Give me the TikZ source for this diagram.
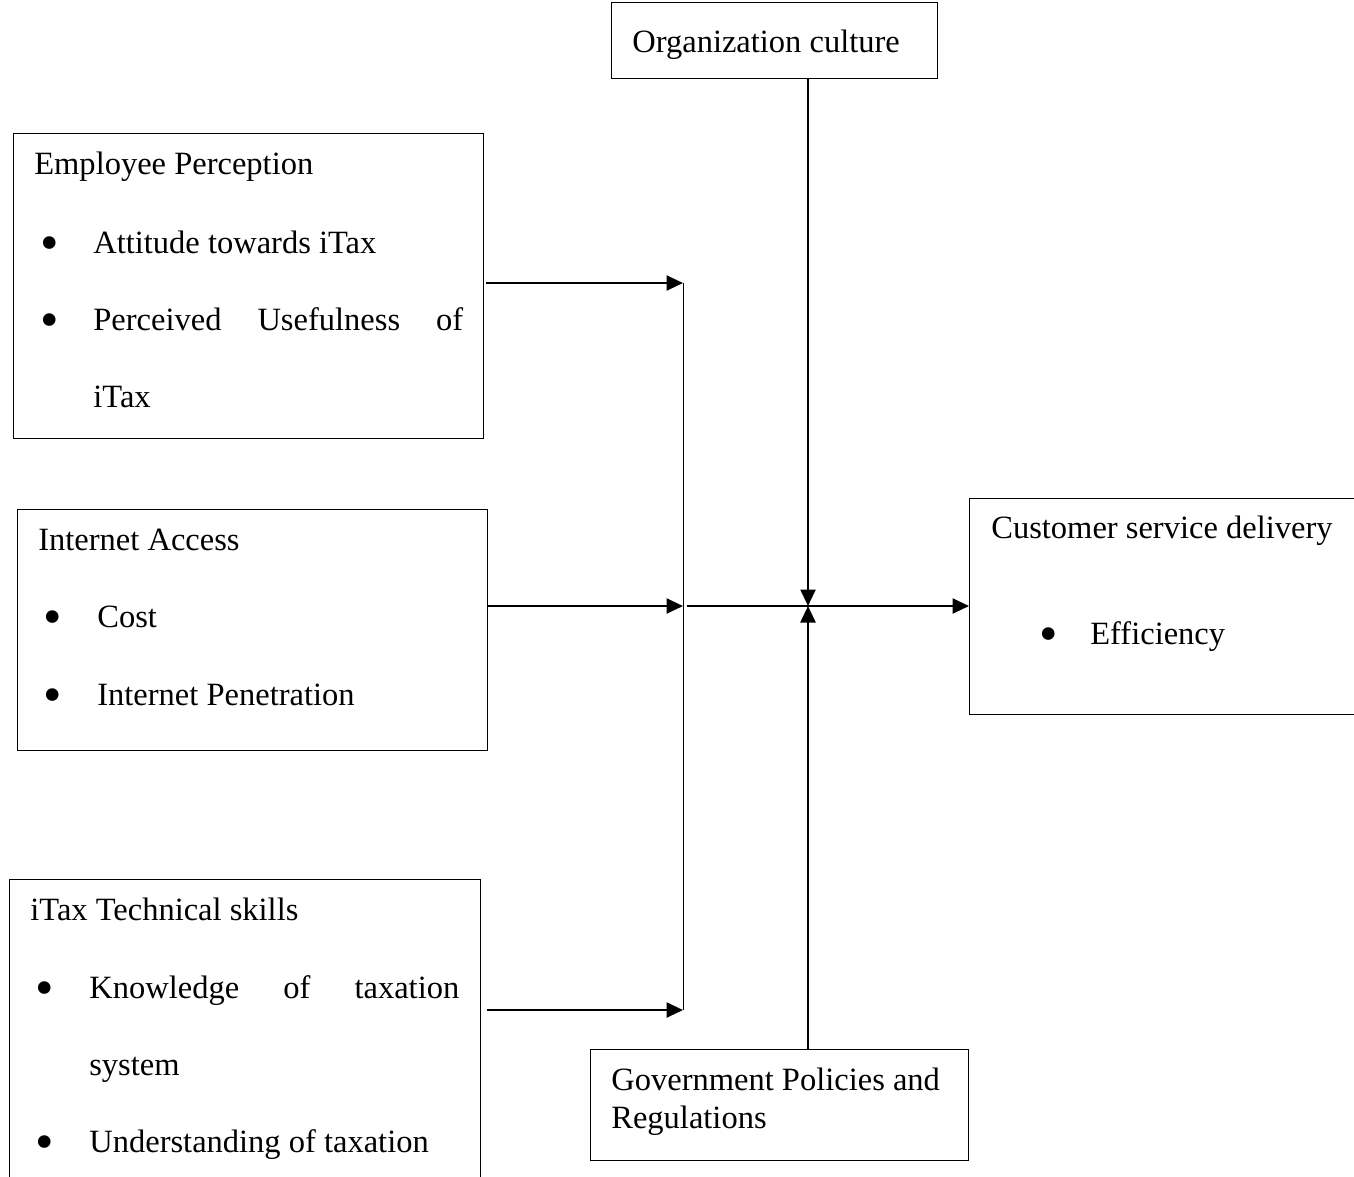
\documentclass[tikz,border=0pt]{standalone}
\usepackage{fontspec}
\setmainfont{Liberation Serif}
\usetikzlibrary{arrows.meta, positioning}
\tikzset{
  block/.style = {draw, line width=0.8pt, inner sep=0pt, anchor=north west},
  txt/.style = {font=\fontsize{18.5}{21.5}\selectfont, inner sep=0pt, anchor=base west},
  dot/.style = {font=\fontsize{30}{30}\selectfont, inner sep=0pt, anchor=center},
  link/.style = {line width=1.4pt, -{Triangle[length=3.3mm, width=3mm]}}
}

\begin{document}
\begin{tikzpicture}[x=0.02cm, y=-0.02cm]

    \clip (0,0) rectangle (1354,1176);

    %% Boxes
    \node[block, minimum width=6.52cm, minimum height=1.52cm] (org) at (611,2) {};
    \node[block, minimum width=9.40cm, minimum height=6.10cm] (emp) at (13,133) {};
    \node[block, minimum width=9.40cm, minimum height=4.82cm] (net) at (17,509) {};
    \node[block, minimum width=9.42cm, minimum height=7.00cm] (tech) at (9,879) {};
    \node[block, minimum width=7.56cm, minimum height=2.22cm] (gov) at (590,1049) {};
    \node[block, minimum width=8.40cm, minimum height=4.32cm] (cust) at (969,498) {};

    % Organization culture
    \node[txt] (org-t) at (632,53) {Organization culture};

    % Employee perception
    \node[txt] (emp-t) at (34,174) {Employee Perception};
    \node[dot] (emp-b1) at (50,249) {\textbullet};
    \node[txt] (emp-1) at (93,253) {Attitude towards iTax};
    \node[dot] (emp-b2) at (50,326) {\textbullet};
    \node[txt] (emp-2) at (93,330) {\makebox[7.4cm][s]{Perceived Usefulness of}};
    \node[txt] (emp-3) at (93,407) {iTax};

    % Internet access
    \node[txt] (net-t) at (38,550) {Internet Access};
    \node[dot] (net-b1) at (53,623) {\textbullet};
    \node[txt] (net-1) at (97,627) {Cost};
    \node[dot] (net-b2) at (53,701) {\textbullet};
    \node[txt] (net-2) at (97,705) {Internet Penetration};

    % Technical skills
    \node[txt] (tech-t) at (30,920) {iTax Technical skills};
    \node[dot] (tech-b1) at (45,994) {\textbullet};
    \node[txt] (tech-1) at (89,998) {\makebox[7.4cm][s]{Knowledge of taxation}};
    \node[txt] (tech-2) at (89,1075) {system};
    \node[dot] (tech-b2) at (45,1148) {\textbullet};
    \node[txt] (tech-3) at (89,1152) {Understanding of taxation};

    % Government policies
    \node[txt] (gov-1) at (611,1090) {Government Policies and};
    \node[txt] (gov-2) at (611,1128) {Regulations};

    % Customer service delivery
    \node[txt] (cust-t) at (991,538) {Customer service delivery};
    \node[dot] (cust-b1) at (1049,640) {\textbullet};
    \node[txt] (cust-1) at (1090,644) {Efficiency};

    %% Connectors
    \coordinate (jt) at (683,283);
    \coordinate (j) at (683,606);
    \coordinate (jb) at (683,1010);
    \coordinate (m) at (808,606);

    \draw[line width=0.45pt] (jt) -- (jb);
    \draw[link] ([xshift=1pt]emp.east |- jt) -- (jt);
    \draw[link] (net.east |- j) -- (j);
    \draw[link] ([xshift=3pt]tech.east |- jb) -- (jb);
    \draw[link] ([xshift=2pt]j) -- (cust.west |- j);
    \draw[link] (org.south -| m) -- (m);
    \draw[link] (gov.north -| m) -- (m);

\end{tikzpicture}
\end{document}
